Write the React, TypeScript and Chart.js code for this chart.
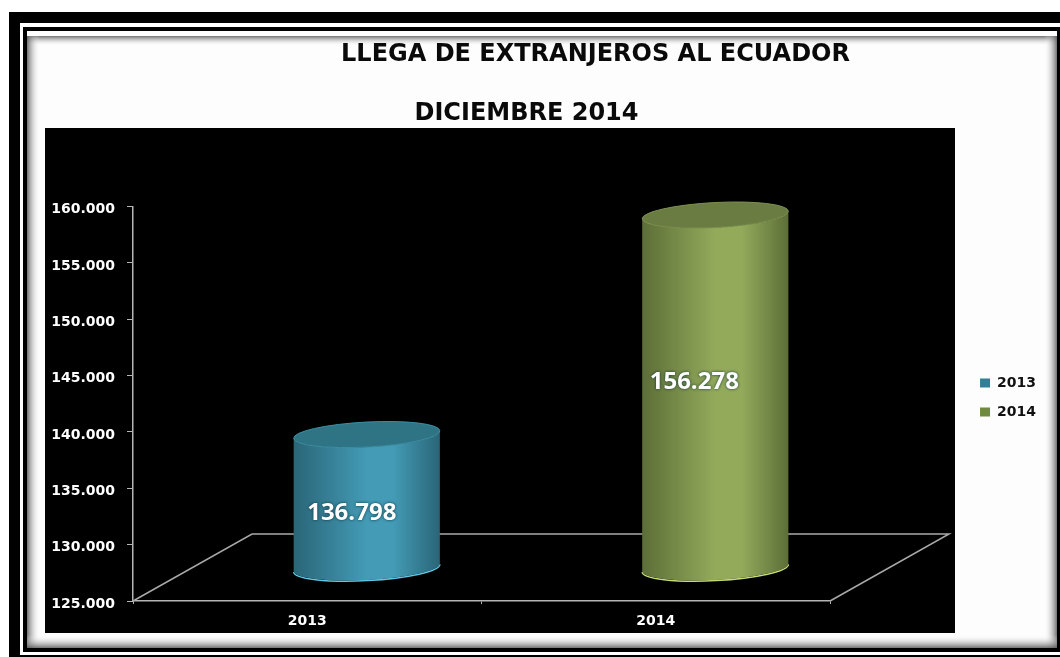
import React, { useEffect, useRef } from "react";
import { Chart, registerables } from "chart.js";

Chart.register(...registerables);

const categories = ["2013", "2014"];
const arrivals = [136798, 156278];
const yTicks = [125000, 130000, 135000, 140000, 145000, 150000, 155000, 160000];
const mainTitle = "LLEGA DE EXTRANJEROS AL ECUADOR";
const subTitle = "DICIEMBRE 2014";
const legendColors = ["#2f7f97", "#6f8a3c"];
const sideEdge = ["#2a6577", "#5c6e37"];
const sideMid = ["#439bb6", "#93aa5b"];
const capFill = ["#2f7484", "#6a7c41"];
const capEdge = ["#3d8ea5", "#7d9250"];
const rimFill = ["#62c7e2", "#c6dc74"];
const labelShiftX = [-15, -21];
const labelShiftY = [12, -9];

const DEPTH_X = 119;
const DEPTH_Y = -67;
const fmt = (v: number) => String(v).replace(/\B(?=(\d{3})+$)/g, ".");

const framePlugin = {
  id: "frame",
  beforeDraw(chart: any) {
    const c = chart.ctx;
    const rect = (col: string, x: number, y: number, w: number, h: number) => {
      c.fillStyle = col;
      c.fillRect(x, y, w, h);
    };
    c.save();
    rect("#ffffff", 0, 0, 1060, 657);
    rect("#000000", 9, 12, 1051, 645);
    rect("#ffffff", 20, 23, 1040, 632);
    rect("#000000", 23, 27, 1037, 625);
    rect("#fdfdfd", 27, 31, 1030, 617);
    const edge = (x0: number, y0: number, x1: number, y1: number, x: number, y: number, w: number, h: number) => {
      const g = c.createLinearGradient(x0, y0, x1, y1);
      g.addColorStop(0, "rgba(90,90,90,0.85)");
      g.addColorStop(1, "rgba(255,255,255,0)");
      c.fillStyle = g;
      c.fillRect(x, y, w, h);
    };
    edge(0, 36, 0, 46, 27, 36, 1030, 10);
    edge(27, 0, 40, 0, 27, 31, 13, 617);
    edge(1057, 0, 1044, 0, 1044, 31, 13, 617);
    edge(0, 648, 0, 635, 27, 635, 1030, 13);
    rect("#ffffff", 27, 31, 1030, 5);
    rect("#000000", 45, 128, 910, 505);
    c.restore();
  },
};

const floorPlugin = {
  id: "floor",
  beforeDatasetsDraw(chart: any) {
    const { left, right, bottom } = chart.chartArea;
    const c = chart.ctx;
    c.save();
    c.strokeStyle = "#a9a9a9";
    c.lineWidth = 1.5;
    c.beginPath();
    c.moveTo(left, bottom);
    c.lineTo(left + DEPTH_X, bottom + DEPTH_Y);
    c.lineTo(right + DEPTH_X, bottom + DEPTH_Y);
    c.lineTo(right, bottom);
    c.stroke();
    c.restore();
  },
};

const cylinderPlugin = {
  id: "cylinder",
  beforeDatasetDraw(chart: any, args: any) {
    const c = chart.ctx;
    const bars = chart.getDatasetMeta(args.index).data;
    const tilt = (-3 * Math.PI) / 180;
    bars.forEach((bar: any, i: number) => {
      const cx = bar.x + DEPTH_X / 2;
      const rx = bar.width / 2;
      const ry = 12.5;
      const top = bar.y + DEPTH_Y / 2;
      const base = chart.chartArea.bottom + DEPTH_Y / 2;
      const g = c.createLinearGradient(cx - rx, 0, cx + rx, 0);
      g.addColorStop(0, sideEdge[i]);
      g.addColorStop(0.5, sideMid[i]);
      g.addColorStop(0.68, sideMid[i]);
      g.addColorStop(1, sideEdge[i]);
      c.save();
      c.beginPath();
      c.ellipse(cx, base + 0.6, rx, ry, tilt, 0, Math.PI);
      c.strokeStyle = rimFill[i];
      c.lineWidth = 1.5;
      c.stroke();
      c.beginPath();
      c.ellipse(cx, top, rx, ry, tilt, Math.PI, 0, true);
      c.ellipse(cx, base, rx, ry, tilt, 0, Math.PI);
      c.closePath();
      c.fillStyle = g;
      c.fill();
      c.beginPath();
      c.ellipse(cx, top, rx, ry, tilt, 0, Math.PI * 2);
      c.fillStyle = capFill[i];
      c.fill();
      c.strokeStyle = capEdge[i];
      c.lineWidth = 1;
      c.stroke();
      c.restore();
    });
    return false;
  },
  afterDatasetsDraw(chart: any) {
    const c = chart.ctx;
    const bars = chart.getDatasetMeta(0).data;
    bars.forEach((bar: any, i: number) => {
      const cx = bar.x + DEPTH_X / 2 + labelShiftX[i];
      const cy = (bar.y + chart.chartArea.bottom + DEPTH_Y) / 2 + labelShiftY[i];
      c.save();
      c.font = "bold 24px 'Open Sans'";
      c.textAlign = "center";
      c.textBaseline = "middle";
      c.shadowColor = "rgba(0,40,50,0.9)";
      c.shadowBlur = 3;
      c.fillStyle = "#ffffff";
      c.fillText(fmt(arrivals[i]), cx, cy);
      c.restore();
    });
  },
};

const placementPlugin = {
  id: "placement",
  afterUpdate(chart: any) {
    chart.boxes.forEach((b: any) => {
      const text = b.options && b.options.text;
      if (text === mainTitle) {
        b.left += 118;
        b.right += 118;
      } else if (text === subTitle) {
        b.left += 49;
        b.right += 49;
      }
    });
    const l = chart.legend;
    l.left += 135;
    l.right += 135;
    l.top += 81;
    l.bottom += 81;
  },
};

export default function App() {
  const ref = useRef<HTMLCanvasElement>(null);
  useEffect(() => {
    const chart = new Chart(ref.current as HTMLCanvasElement, {
      type: "bar",
      data: {
        labels: categories,
        datasets: [
          {
            label: "Llegadas",
            data: arrivals,
            backgroundColor: legendColors,
            barPercentage: 0.42,
            categoryPercentage: 1,
          },
        ],
      },
      plugins: [framePlugin, floorPlugin, cylinderPlugin, placementPlugin],
      options: {
        responsive: false,
        animation: false,
        layout: { padding: { left: 44, right: 149, top: 0, bottom: 24 } },
        plugins: {
          tooltip: { enabled: false },
          title: {
            display: true,
            text: mainTitle,
            color: "#0a0a0a",
            font: { family: "'DejaVu Sans'", size: 24, weight: "bold" },
            padding: { top: 40, bottom: 0 },
          },
          subtitle: {
            display: true,
            text: subTitle,
            color: "#0a0a0a",
            font: { family: "'DejaVu Sans'", size: 24, weight: "bold" },
            padding: { top: 31, bottom: 78 },
          },
          legend: {
            position: "right",
            labels: {
              boxWidth: 10,
              boxHeight: 9,
              padding: 15,
              color: "#111111",
              font: { family: "'DejaVu Sans'", size: 14, weight: "bold" },
              generateLabels: () =>
                categories.map((t, i) => ({
                  text: t,
                  fillStyle: legendColors[i],
                  strokeStyle: legendColors[i],
                  fontColor: "#111111",
                  lineWidth: 0,
                  index: i,
                })),
            },
          },
        },
        scales: {
          x: {
            afterFit: (s: any) => {
              s.height = 32;
            },
            border: { display: true, color: "#b5b5b5", width: 1.5 },
            grid: { display: true, drawOnChartArea: false, drawTicks: true, tickLength: 3, color: "#b5b5b5" },
            ticks: {
              color: "#ffffff",
              padding: 9,
              font: { family: "'DejaVu Sans'", size: 14, weight: "bold" },
            },
          },
          y: {
            min: 125000,
            max: 160000,
            afterBuildTicks: (s: any) => {
              s.ticks = yTicks.map((value) => ({ value }));
            },
            afterFit: (s: any) => {
              s.width = 89;
            },
            border: { display: true, color: "#b5b5b5", width: 1.5 },
            grid: { display: true, drawOnChartArea: false, drawTicks: true, tickLength: 6, color: "#b5b5b5" },
            ticks: {
              color: "#ffffff",
              padding: 12,
              labelOffset: 3,
              font: { family: "'DejaVu Sans'", size: 14, weight: "bold" },
              callback: (v: any) => fmt(Number(v)),
            },
          },
        },
      },
    } as any);
    return () => chart.destroy();
  }, []);
  return (
    <div style={{ position: "absolute", left: 0, top: 0, width: 1060, height: 657, overflow: "hidden" }}>
      <canvas ref={ref} width={1060} height={657} style={{ display: "block", filter: "blur(0.4px)" }} />
    </div>
  );
}
